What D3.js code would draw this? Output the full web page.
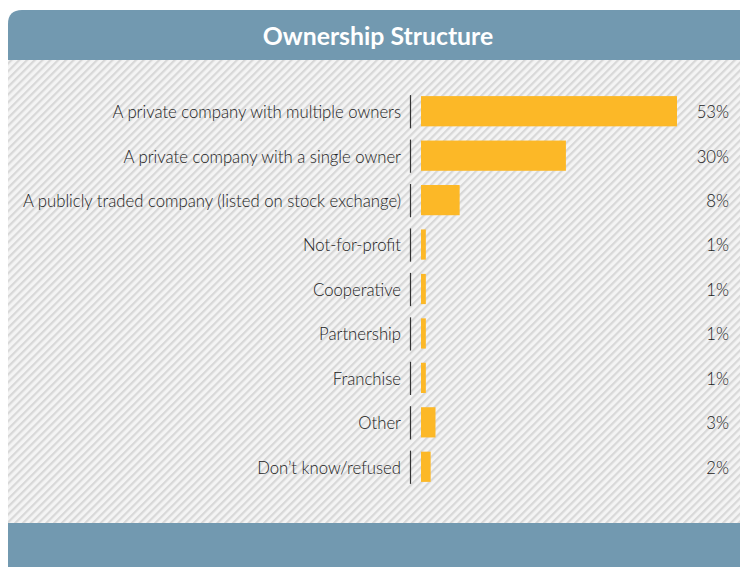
<!DOCTYPE html>
<html>
<head>
<meta charset="utf-8">
<script src="https://cdn.jsdelivr.net/npm/d3@7"></script>
<style>
  html, body { margin: 0; padding: 0; background: #ffffff; }
  svg { display: block; }
</style>
</head>
<body>
<svg id="chart" width="740" height="567"></svg>
<script>
// Ownership structure survey responses (% of respondents)
const categories = [
  "A private company with multiple owners",
  "A private company with a single owner",
  "A publicly traded company (listed on stock exchange)",
  "Not-for-profit",
  "Cooperative",
  "Partnership",
  "Franchise",
  "Other",
  "Don\u2019t know/refused"
];
const values = [53, 30, 8, 1, 1, 1, 1, 3, 2];
const title = "Ownership Structure";

const W = 740, H = 567;
const svg = d3.select("#chart");
const defs = svg.append("defs");

// Diagonal hatch used for the panel background
const pat = defs.append("pattern")
  .attr("id", "hatch")
  .attr("patternUnits", "userSpaceOnUse")
  .attr("width", 5.5).attr("height", 5.5)
  .attr("patternTransform", "rotate(45)");
pat.append("rect").attr("width", 5.5).attr("height", 5.5).attr("fill", "#f4f4f4");
pat.append("rect").attr("x", 0).attr("width", 2.2).attr("height", 5.5).attr("fill", "#d8d8d8");

const panelX = 8;
// Hatched body
svg.append("rect")
  .attr("x", panelX).attr("y", 60)
  .attr("width", W - panelX).attr("height", 463)
  .attr("fill", "url(#hatch)");

// Header band with rounded top-left corner
const hx = panelX, hy = 10, hr = 14, hh = 50;
svg.append("path")
  .attr("d", `M${hx},${hy + hh} L${hx},${hy + hr} Q${hx},${hy} ${hx + hr},${hy} L${W},${hy} L${W},${hy + hh} Z`)
  .attr("fill", "#7299b0");
svg.append("text")
  .attr("x", 378).attr("y", 45)
  .attr("text-anchor", "middle")
  .attr("fill", "#ffffff")
  .attr("font-family", "Lato, 'Open Sans', sans-serif")
  .attr("font-weight", 700)
  .attr("font-size", 24.8)
  .text(title);

// Footer band
svg.append("rect")
  .attr("x", panelX).attr("y", 523)
  .attr("width", W - panelX).attr("height", H - 523)
  .attr("fill", "#7299b0");

// Scales
const x = d3.scaleLinear().domain([0, 53]).range([421, 677]);
const y = d3.scaleBand().domain(categories).range([89, 489]).paddingInner(0.32).paddingOuter(0.16);

const g = svg.append("g");

// Separator ticks between labels and bars
g.selectAll("line.sep").data(categories).join("line")
  .attr("class", "sep")
  .attr("x1", 410.5).attr("x2", 410.5)
  .attr("y1", d => y(d) - 1)
  .attr("y2", d => y(d) + y.bandwidth() + 2)
  .attr("stroke", "#333").attr("stroke-width", 1.2);

// Bars
g.selectAll("rect.bar").data(categories).join("rect")
  .attr("class", "bar")
  .attr("x", x(0))
  .attr("y", (d) => y(d))
  .attr("width", (d, i) => x(values[i]) - x(0))
  .attr("height", y.bandwidth())
  .attr("fill", "#fcb827");

const labelFont = { family: "Lato, 'Open Sans', sans-serif", weight: 300, size: 16.7, color: "#222" };

// Category labels
g.selectAll("text.cat").data(categories).join("text")
  .attr("class", "cat")
  .attr("x", 401)
  .attr("y", d => y(d) + y.bandwidth() / 2 + 1)
  .attr("dy", "0.35em")
  .attr("text-anchor", "end")
  .attr("fill", labelFont.color)
  .attr("font-family", labelFont.family)
  .attr("font-weight", labelFont.weight)
  .attr("font-size", labelFont.size)
  .text(d => d);

// Value labels
g.selectAll("text.val").data(categories).join("text")
  .attr("class", "val")
  .attr("x", 729)
  .attr("y", d => y(d) + y.bandwidth() / 2 + 1)
  .attr("dy", "0.35em")
  .attr("text-anchor", "end")
  .attr("fill", labelFont.color)
  .attr("font-family", labelFont.family)
  .attr("font-weight", labelFont.weight)
  .attr("font-size", labelFont.size)
  .text((d, i) => values[i] + "%");
</script>
</body>
</html>
